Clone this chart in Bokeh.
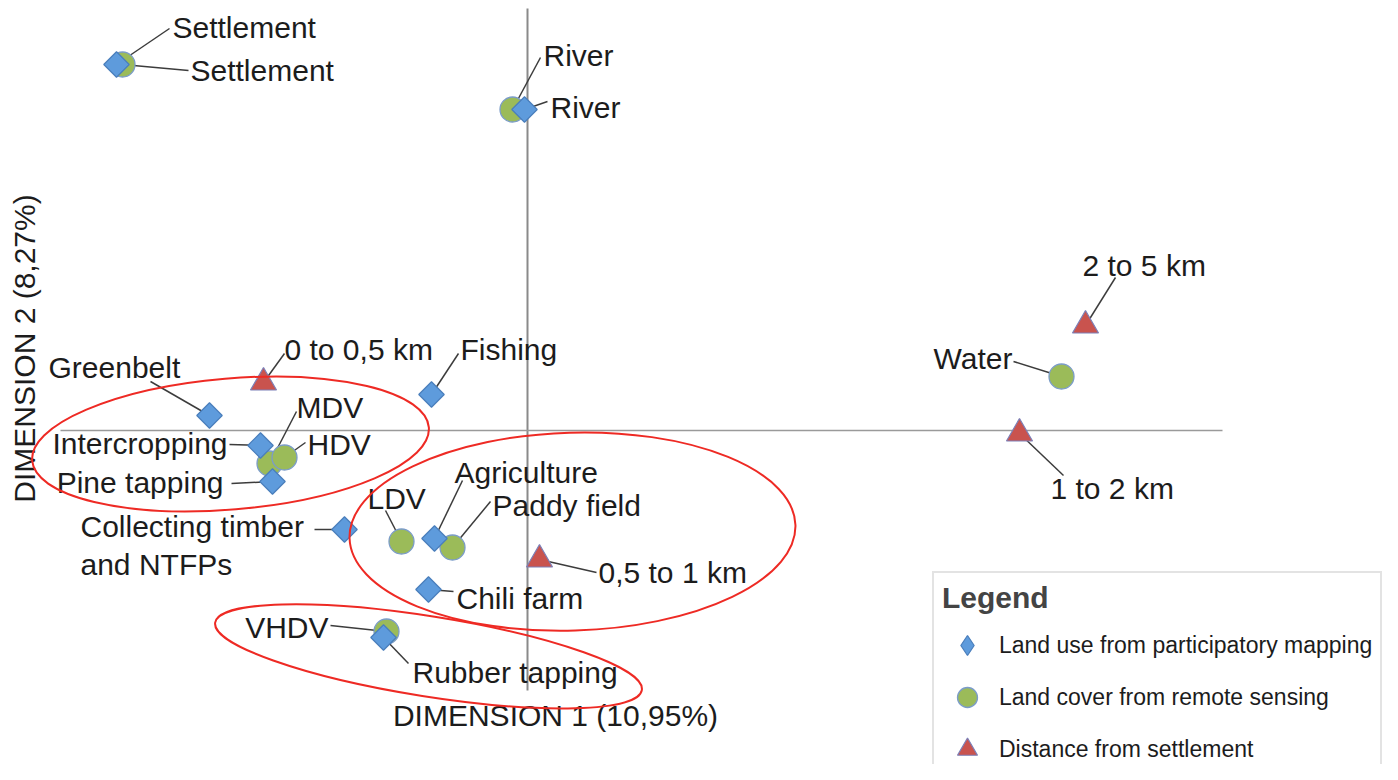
import math
from bokeh.plotting import figure
from bokeh.models import ColumnDataSource, Range1d, Legend, LegendItem
from bokeh.core.properties import value
from bokeh.embed import file_html
from bokeh.resources import INLINE

# ---------------- data (MCA coordinates) ----------------
landuse_names = ["Settlement", "River", "Fishing", "Greenbelt", "Intercropping",
                 "Pine tapping", "Collecting timber\nand NTFPs", "Agriculture",
                 "Chili farm", "Rubber tapping"]
landuse_x = [-1.37, -0.01, -0.32, -1.06, -0.89, -0.85, -0.61, -0.31, -0.33, -0.48]
landuse_y = [1.22, 1.07, 0.12, 0.05, -0.05, -0.17, -0.33, -0.36, -0.53, -0.69]

landcover_names = ["Settlement", "River", "MDV", "HDV", "LDV", "Paddy field", "Water", "VHDV"]
landcover_x = [-1.35, -0.05, -0.86, -0.81, -0.42, -0.25, 1.78, -0.47]
landcover_y = [1.22, 1.07, -0.11, -0.09, -0.37, -0.39, 0.18, -0.67]

distance_names = ["0 to 0,5 km", "0,5 to 1 km", "1 to 2 km", "2 to 5 km"]
distance_x = [-0.88, 0.04, 1.64, 1.86]
distance_y = [0.16, -0.43, -0.01, 0.35]

series_labels = ["Land use from participatory mapping",
                 "Land cover from remote sensing",
                 "Distance from settlement"]
dim1_label = "DIMENSION 1 (10,95%)"
dim2_label = "DIMENSION 2 (8,27%)"

# cluster ellipses (centre, size in dimension units, tilt in radians)
cluster_x = [-0.99, 0.15, -0.33]
cluster_y = [-0.045, -0.337, -0.753]
cluster_w = [1.327, 1.487, 1.44]
cluster_h = [0.437, 0.66, 0.267]
cluster_angle = [0.084, 0.03, -0.157]

# ---------------- label layout (screen px offsets, y downwards) ----------------
landuse_label_dx = [56, 26, 29, -161, -33, -49, -264, 20, 28, 29]
landuse_label_dy = [-37, -2, -45, -48, -2, 1, 16, -66, 9, 35]
landuse_align = ["left", "left", "left", "left", "right", "right", "left", "left", "left", "left"]
landuse_lead_dx = [53, 23, 27, -59, -31, -41, -30, 28, 25, 25]
landuse_lead_dy = [-36, -8, -41, -34, -1, 2, 0, -58, 2, 26]

landcover_label_dx = [68, 31, 27, 23, -34, 40, -49, -58]
landcover_label_dy = [6, -54, -56, -13, -43, -42, -18, -4]
landcover_align = ["left", "left", "left", "left", "left", "left", "right", "right"]
landcover_lead_dx = [66, 28, 27, 21, -16, 38, -48, -56]
landcover_lead_dy = [6, -52, -52, -15, -31, -46, -15, -6]

distance_label_dx = [21, 59, 31, -3]
distance_label_dy = [-33, 13, 55, -60]
distance_align = ["left", "left", "left", "left"]
distance_lead_dx = [21, 57, 44, 30]
distance_lead_dy = [-29, 13, 42, -48]

# ---------------- geometry ----------------
W, H = 1382, 764
PPU = 300.0          # pixels per dimension unit (same on both axes)
OX, OY = 527, 430    # canvas position of the origin

FONT = "Liberation Sans"


def dx(px):
    return (px - OX) / PPU


def dy(py):
    return (OY - py) / PPU


p = figure(width=W, height=H,
           x_range=Range1d(dx(0), dx(W)),
           y_range=Range1d(dy(H), dy(0)),
           output_backend="svg", toolbar_location=None,
           x_axis_location=None, y_axis_location=None, min_border=0)
p.grid.visible = False
p.outline_line_color = None
p.background_fill_color = "white"

# dimension axes
p.segment(x0=[0], y0=[dy(8)], x1=[0], y1=[dy(690)], line_color="#8a8a8a", line_width=2)
p.segment(x0=[dx(60)], y0=[0], x1=[dx(1222)], y1=[0], line_color="#9a9a9a", line_width=1.6)


def build(names, xs, ys, ldx, ldy, align, edx, edy):
    lx = [x + d / PPU for x, d in zip(xs, ldx)]
    ly = [y - d / PPU for y, d in zip(ys, ldy)]
    ex = [x + d / PPU for x, d in zip(xs, edx)]
    ey = [y - d / PPU for y, d in zip(ys, edy)]
    pts = ColumnDataSource(dict(x=xs, y=ys, name=names))
    lead = ColumnDataSource(dict(x0=xs, y0=ys, x1=ex, y1=ey))
    left = {k: [] for k in ("x", "y", "text")}
    right = {k: [] for k in ("x", "y", "text")}
    for n, a, b, al in zip(names, lx, ly, align):
        t = left if al == "left" else right
        t["x"].append(a)
        t["y"].append(b)
        t["text"].append(n)
    return pts, lead, ColumnDataSource(left), ColumnDataSource(right)


groups = [
    build(landcover_names, landcover_x, landcover_y, landcover_label_dx, landcover_label_dy,
          landcover_align, landcover_lead_dx, landcover_lead_dy),
    build(landuse_names, landuse_x, landuse_y, landuse_label_dx, landuse_label_dy,
          landuse_align, landuse_lead_dx, landuse_lead_dy),
    build(distance_names, distance_x, distance_y, distance_label_dx, distance_label_dy,
          distance_align, distance_lead_dx, distance_lead_dy),
]

for pts, lead, lsrc, rsrc in groups:
    p.segment(x0="x0", y0="y0", x1="x1", y1="y1", source=lead,
              line_color="#3c3c3c", line_width=1.5)

USE_FILL, USE_LINE = "#5E9BDC", "#4A7EBB"
r_cover = p.scatter("x", "y", source=groups[0][0], marker="circle", size=25,
                    fill_color="#9BBB59", line_color="#7B9CC8", line_width=1.3)
r_use = p.scatter("x", "y", source=groups[1][0], marker="square", angle=math.pi / 4, size=18,
                  fill_color=USE_FILL, line_color=USE_LINE, line_width=1.2)
r_dist = p.scatter("x", "y", source=groups[2][0], marker="triangle", size=26,
                   fill_color="#C9534E", line_color="#7C80B8", line_width=1.2)
# legend swatch for the land-use series (diamond shape, not drawn in the plot area)
r_use_leg = p.scatter(x=[float("nan")], y=[float("nan")], marker="diamond",
                      fill_color=USE_FILL, line_color=USE_LINE, line_width=1.2)

for pts, lead, lsrc, rsrc in groups:
    for src, al in ((lsrc, "left"), (rsrc, "right")):
        p.text(x="x", y="y", text="text", source=src, text_align=al, text_baseline="middle",
               text_font=value(FONT), text_font_size="30px", text_color="#1c1c1c",
               text_line_height=1.17)

# axis titles
p.text(x=[dx(555)], y=[dy(715)], text=[dim1_label], text_align="center",
       text_baseline="middle", text_font=value(FONT), text_font_size="30px", text_color="#1c1c1c")
p.text(x=[dx(24)], y=[dy(348)], text=[dim2_label], angle=math.pi / 2,
       text_align="center", text_baseline="middle", text_font=value(FONT),
       text_font_size="30px", text_color="#1c1c1c")

# cluster ellipses
p.ellipse(x=cluster_x, y=cluster_y, width=cluster_w, height=cluster_h, angle=cluster_angle,
          fill_color=None, line_color="#EE2A24", line_width=2)

legend = Legend(
    items=[LegendItem(label=series_labels[0], renderers=[r_use_leg]),
           LegendItem(label=series_labels[1], renderers=[r_cover]),
           LegendItem(label=series_labels[2], renderers=[r_dist])],
    location=(932, -21), title="Legend", title_text_font_style="bold",
    title_text_font_size="30px", title_text_font=FONT, title_standoff=4,
    label_text_font=FONT, label_text_font_size="23px", label_text_color="#1c1c1c",
    label_standoff=7, glyph_width=50, glyph_height=52, spacing=0, padding=8, margin=0,
    border_line_color="#C8C8C8", border_line_width=2, background_fill_color="white",
    background_fill_alpha=1.0)
p.add_layout(legend)

open("out.html", "w").write(file_html(p, INLINE))
